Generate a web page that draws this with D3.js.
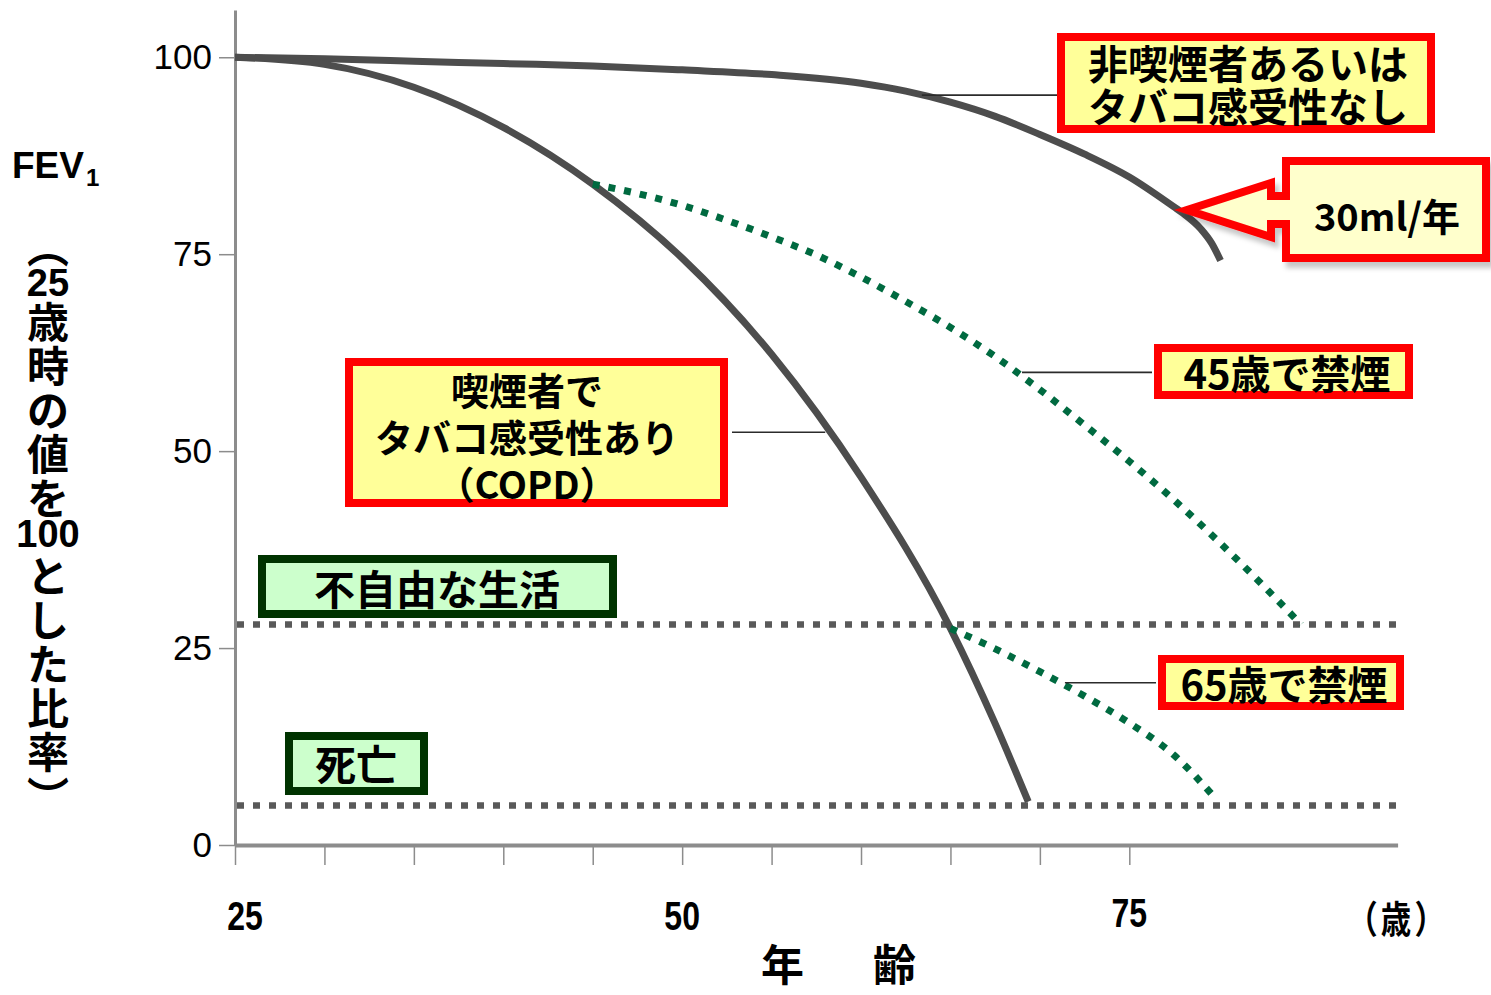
<!DOCTYPE html>
<html>
<head>
<meta charset="utf-8">
<script src="https://cdn.jsdelivr.net/npm/d3@7"></script>
<style>
  body { margin: 0; background: #fff; }
  svg { display: block; }
</style>
</head>
<body>
<script>
// FEV1 as a percentage of the value at age 25, by age in years
const nonSmokerAges   = [25, 30, 35, 40, 45, 50, 55, 60, 62.5, 65, 67.5, 70, 72.5, 75, 77.5, 78, 79, 79.6, 80.1];
const nonSmokerValues = [100, 99.8, 99.5, 99.2, 98.9, 98.4, 97.8, 96.7, 95.7, 94.3, 92.5, 90.2, 87.7, 84.8, 81.0, 80.2, 78.2, 76.4, 74.2];

const copdAges   = [25, 30, 35, 40, 45, 50, 55, 60, 65, 67.5, 69.35];
const copdValues = [100, 99.1, 96.2, 91.1, 83.9, 74.5, 62.3, 46.7, 27.5, 15.4, 5.5];

const quit45Ages   = [45, 47.5, 50, 52.5, 55, 57.5, 60, 62.5, 65, 67.5, 70, 72.5, 75, 77.5, 80, 82.5, 84.6];
const quit45Values = [83.9, 82.7, 81.2, 79.3, 77.2, 74.9, 72.1, 69.0, 65.7, 62.0, 57.8, 53.3, 48.7, 43.8, 38.5, 32.9, 28.0];

const quit65Ages   = [65, 67.5, 70, 72.5, 75, 77.5, 79.9];
const quit65Values = [27.5, 24.9, 22.0, 18.9, 15.5, 11.4, 5.7];

// threshold levels
const thresholdLevels = [28, 5];
const thresholdNames  = ["不自由な生活", "死亡"];

// axes
const xTickValues  = [25, 30, 35, 40, 45, 50, 55, 60, 65, 70, 75];
const xLabelValues = [25, 50, 75];
const yTickValues  = [0, 25, 50, 75, 100];

// annotation texts
const nonSmokerLabel = ["非喫煙者あるいは", "タバコ感受性なし"];
const copdLabel      = ["喫煙者で", "タバコ感受性あり", "（COPD）"];
const rateLabel      = "30ml/年";
const quit45Label    = "45歳で禁煙";
const quit65Label    = "65歳で禁煙";
const yTitleMain     = "FEV";
const yTitleSub      = "1";
const yTitleTokens   = ["︵", "25", "歳", "時", "の", "値", "を", "100", "と", "し", "た", "比", "率", "︶"];
const xUnitLabel     = "（歳）";
const xTitle         = "年　齢";

const W = 1491, H = 995;
const JP = "'Noto Sans CJK JP', 'Noto Sans', sans-serif";
const LAT = "'Liberation Sans', Arial, sans-serif";

const svg = d3.select("body").append("svg").attr("width", W).attr("height", H);

const defs = svg.append("defs");
defs.append("filter").attr("id", "shadow").attr("x", "-10%").attr("y", "-10%").attr("width", "130%").attr("height", "140%")
  .append("feDropShadow").attr("dx", 4).attr("dy", 6).attr("stdDeviation", 2.5)
  .attr("flood-color", "#000").attr("flood-opacity", 0.22);

const x = d3.scaleLinear().domain([25, 90]).range([235, 1397.6]);
const y = d3.scaleLinear().domain([0, 106]).range([845, 10]);

const zip = (a, b) => a.map((v, i) => [v, b[i]]);
const line = d3.line().x(d => x(d[0])).y(d => y(d[1])).curve(d3.curveMonotoneX);

// ---- axes ----
const yAxis = svg.append("g").attr("transform", `translate(${x(25)},0)`)
  .call(d3.axisLeft(y).tickValues(yTickValues).tickSize(16).tickSizeOuter(0).tickPadding(7));
yAxis.select(".domain").attr("stroke", "#8c8c8c").attr("stroke-width", 3);
yAxis.selectAll(".tick line").attr("stroke", "#8c8c8c").attr("stroke-width", 1.5);
yAxis.selectAll(".tick text").attr("font-family", LAT).attr("font-size", 35).attr("fill", "#000");

const xAxis = svg.append("g").attr("transform", `translate(0,${y(0)})`)
  .call(d3.axisBottom(x).tickValues(xTickValues).tickSize(20).tickSizeOuter(0).tickFormat(""));
xAxis.select(".domain").attr("stroke", "#8c8c8c").attr("stroke-width", 4);
xAxis.selectAll(".tick line").attr("stroke", "#8c8c8c").attr("stroke-width", 1.5);

// x tick labels (bold, condensed)
xLabelValues.forEach((v, i) => {
  const cx = i === 0 ? x(v) + 10 : x(v);
  svg.append("text")
    .attr("transform", `translate(${cx},${i === 2 ? 927 : 930}) scale(0.8,1)`)
    .attr("text-anchor", "middle")
    .attr("font-family", LAT).attr("font-weight", 700).attr("font-size", 40)
    .text(v);
});
svg.append("text")
  .attr("transform", `translate(${x(90)},916) scale(0.8,1)`)
  .attr("text-anchor", "middle").attr("dominant-baseline", "central")
  .attr("font-family", JP).attr("font-weight", 700).attr("font-size", 38)
  .attr("letter-spacing", 4)
  .text(xUnitLabel);
svg.append("text")
  .attr("x", 845).attr("y", 962)
  .attr("text-anchor", "middle").attr("dominant-baseline", "central")
  .attr("font-family", JP).attr("font-weight", 700).attr("font-size", 43)
  .attr("letter-spacing", 13)
  .text(xTitle);

// y title
const yt = svg.append("text").attr("x", 12).attr("y", 178)
  .attr("font-family", LAT).attr("font-weight", 700).attr("font-size", 37);
yt.append("tspan").text(yTitleMain);
yt.append("tspan").attr("font-size", 24).attr("dy", 8).attr("dx", 2).text(yTitleSub);

// stacked vertical caption (brackets in their vertical presentation forms)
let cur = 247;
yTitleTokens.forEach(t => {
  const isOpen = t === "︵", isClose = t === "︶";
  const isDigits = /^[0-9]+$/.test(t);
  const adv = (isOpen || isClose) ? 22 : isDigits ? (t.length === 3 ? 34 : 28) : 44;
  const cy = cur + adv / 2;
  cur += adv;
  svg.append("text")
    .attr("x", 48).attr("y", isOpen ? cy - 14 : isClose ? cy + 12 : cy)
    .attr("text-anchor", "middle").attr("dominant-baseline", "central")
    .attr("font-family", isDigits ? LAT : JP).attr("font-weight", 700)
    .attr("font-size", isDigits ? 38 : 42)
    .text(t);
});

// ---- threshold lines ----
svg.append("g").selectAll("line").data(thresholdLevels).join("line")
  .attr("x1", x(25) + 2).attr("x2", x(90))
  .attr("y1", d => y(d)).attr("y2", d => y(d))
  .attr("stroke", "#595959").attr("stroke-width", 6.5).attr("stroke-dasharray", "7,9");

// ---- curves ----
svg.append("path").datum(zip(nonSmokerAges, nonSmokerValues))
  .attr("d", line).attr("fill", "none").attr("stroke", "#4d4d4d").attr("stroke-width", 7);
svg.append("path").datum(zip(copdAges, copdValues))
  .attr("d", line).attr("fill", "none").attr("stroke", "#4d4d4d").attr("stroke-width", 7);
[zip(quit45Ages, quit45Values), zip(quit65Ages, quit65Values)].forEach(s => {
  svg.append("path").datum(s)
    .attr("d", line).attr("fill", "none").attr("stroke", "#006a40")
    .attr("stroke-width", 7).attr("stroke-dasharray", "7,9");
});

// ---- leader lines (anchored on the curves) ----
const leaders = [
  { from: [63.4, 95.2], toX: 1057 },
  { from: [58.0, 52.4], toX: 732 },
  { from: [69.0, 60.0], toX: 1152 },
  { from: [71.4, 20.6], toX: 1156 }
];
leaders.forEach(l => {
  svg.append("line")
    .attr("x1", x(l.from[0])).attr("x2", l.toX)
    .attr("y1", y(l.from[1])).attr("y2", y(l.from[1]))
    .attr("stroke", "#2b2b2b").attr("stroke-width", 1.6);
});

// ---- label boxes ----
function labelBox(x0, y0, x1, y1, stroke, fill, sw) {
  svg.append("rect")
    .attr("x", x0 + sw / 2).attr("y", y0 + sw / 2)
    .attr("width", x1 - x0 - sw).attr("height", y1 - y0 - sw)
    .attr("fill", fill).attr("stroke", stroke).attr("stroke-width", sw);
}
function labelText(lines, cx, cy0, step, size) {
  lines.forEach((t, i) => {
    svg.append("text")
      .attr("x", cx).attr("y", cy0 + i * step)
      .attr("text-anchor", "middle").attr("dominant-baseline", "central")
      .attr("font-family", JP).attr("font-weight", 700).attr("font-size", size)
      .text(t);
  });
}

const RED = "#ff0000", YEL = "#ffff99", GRN = "#003300", LGRN = "#ccffcc";

labelBox(1057, 33, 1435, 133, RED, YEL, 8);
labelText(nonSmokerLabel, 1248, 62, 43, 40);

labelBox(345, 358, 728, 507, RED, YEL, 8);
labelText(copdLabel, 527, 388, 47, 38);

labelBox(1154, 344, 1413, 399, RED, YEL, 8);
labelText([quit45Label], 1287, 372, 0, 40);

labelBox(1158, 655, 1404, 710, RED, YEL, 8);
labelText([quit65Label], 1284, 683, 0, 40);

labelBox(258, 555, 617, 618, GRN, LGRN, 8);
labelText([thresholdNames[0]], 437, 587, 0, 41);

labelBox(285, 732, 428, 795, GRN, LGRN, 8);
labelText([thresholdNames[1]], 356, 762, 0, 41);

// arrow callout pointing at the non-smoker curve
const tipX = 1187, tipY = 210;
const bx0 = 1286, bx1 = 1486, by0 = 161, by1 = 258, headX = 1271;
const callout = d3.path();
callout.moveTo(bx0, by0);
callout.lineTo(bx1, by0);
callout.lineTo(bx1, by1);
callout.lineTo(bx0, by1);
callout.lineTo(bx0, tipY + 14);
callout.lineTo(headX, tipY + 14);
callout.lineTo(headX, tipY + 27);
callout.lineTo(tipX, tipY);
callout.lineTo(headX, tipY - 27);
callout.lineTo(headX, tipY - 14);
callout.lineTo(bx0, tipY - 14);
callout.closePath();
svg.append("path").attr("d", callout.toString())
  .attr("fill", "#ffffcc").attr("stroke", RED).attr("stroke-width", 8)
  .attr("stroke-linejoin", "miter").attr("filter", "url(#shadow)");
labelText([rateLabel], 1387, 214, 0, 38);
</script>
</body>
</html>
